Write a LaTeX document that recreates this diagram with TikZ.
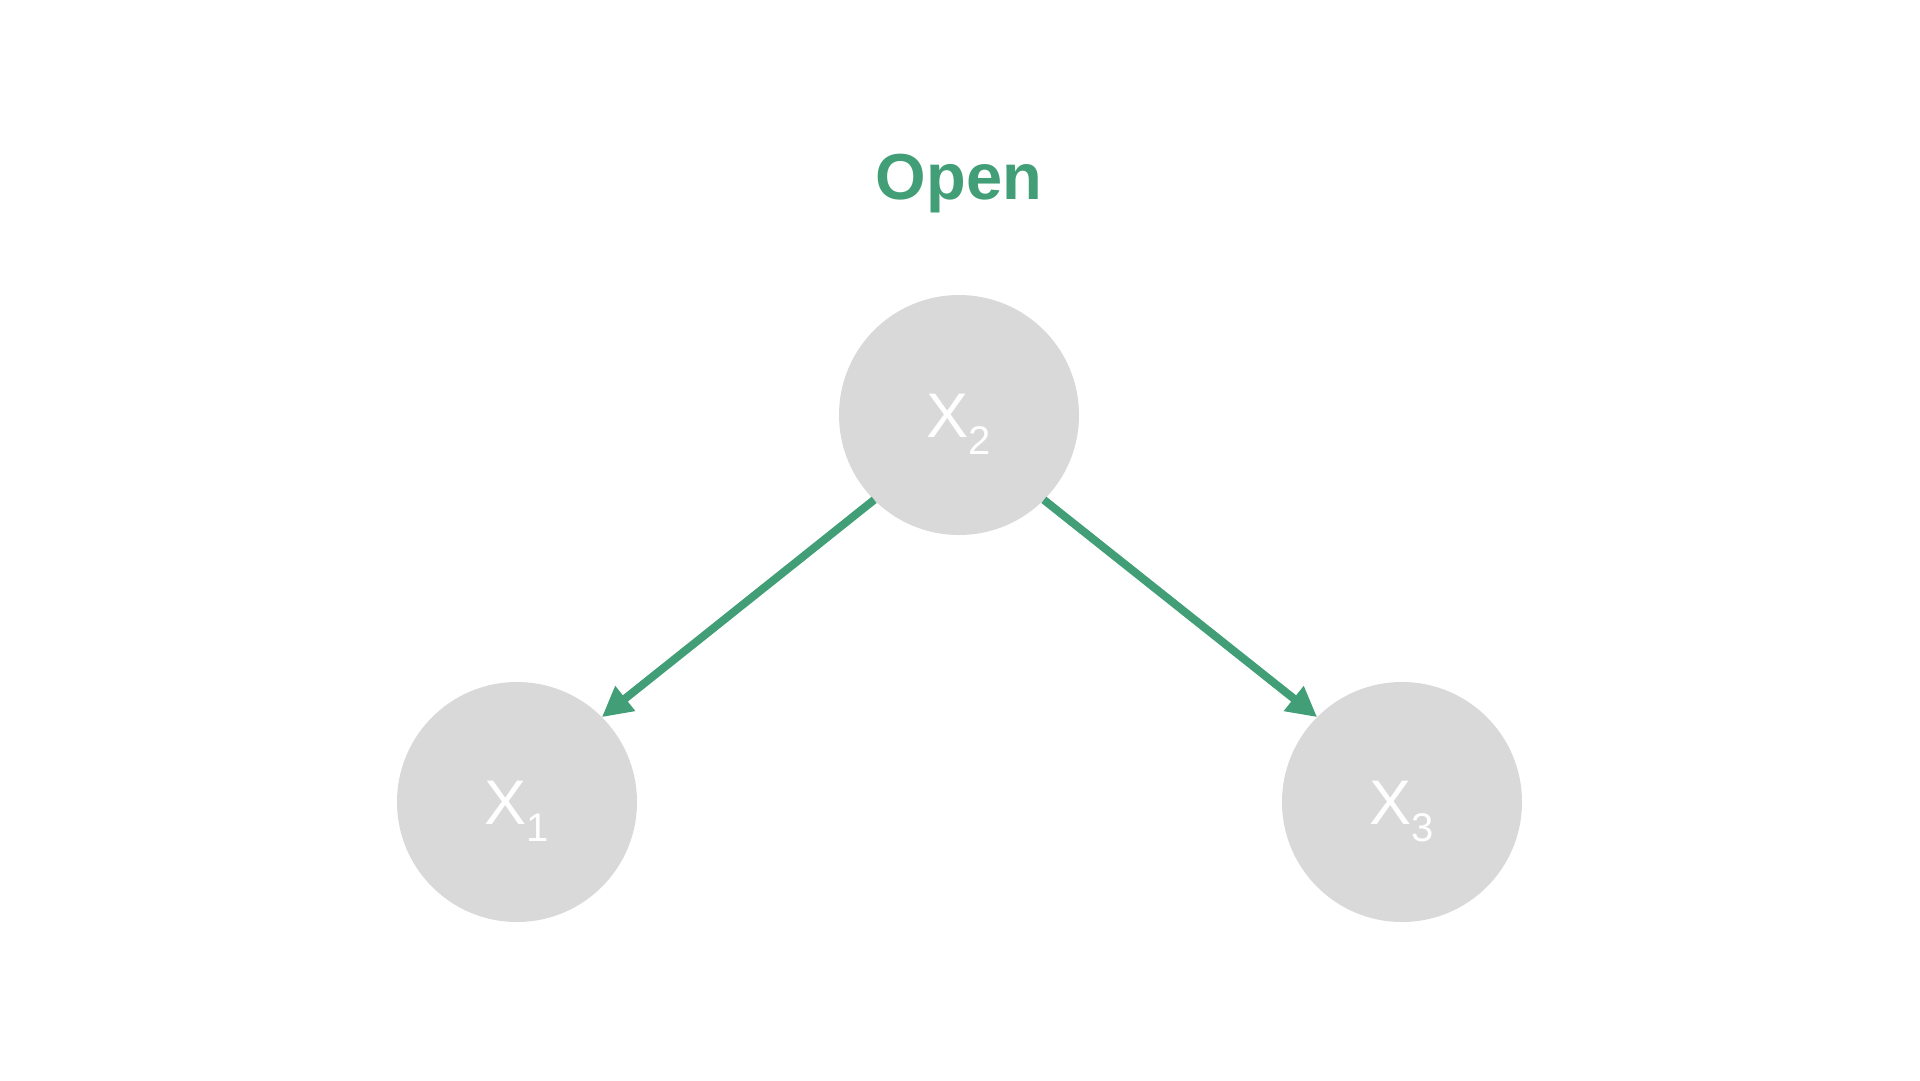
\documentclass[tikz,border=0pt]{standalone}
\usepackage{xcolor}
\usepackage{tikz}
\usepackage{fontspec}
\setmainfont{Liberation Sans}
\usetikzlibrary{arrows.meta, shapes, positioning}
\definecolor{opengreen}{RGB}{65,158,118}
\definecolor{nodegrey}{RGB}{217,217,217}
\newcommand{\subidx}[1]{\raisebox{-17pt}{\fontsize{40}{40}\selectfont #1}}

\begin{document}
\begin{tikzpicture}[x=1pt,y=-1pt]
        \useasboundingbox (0,0) rectangle (1920,1080);
        \node[anchor=base,text=opengreen,font=\fontsize{65}{65}\selectfont\bfseries] (title) at (959,199) {Open};
        \begin{scope}[every node/.style={circle,fill=nodegrey,minimum size=240pt,inner sep=0pt,outer sep=0pt,
            text=white,text height=45pt,text depth=0pt,font=\fontsize{63}{63}\selectfont}]
          \node (x2) at (959,415) {X\subidx{2}};
          \node (x1) at (517,802) {X\subidx{1}};
          \node (x3) at (1402,802) {X\subidx{3}};
        \end{scope}
        \begin{scope}[every edge/.style={draw=opengreen,line width=8pt,-{Triangle[length=30pt,width=30pt]}}]
          \path (x2.225) edge (x1.45);
          \path (x2.-45) edge (x3.135);
        \end{scope}
      \end{tikzpicture}
\end{document}
